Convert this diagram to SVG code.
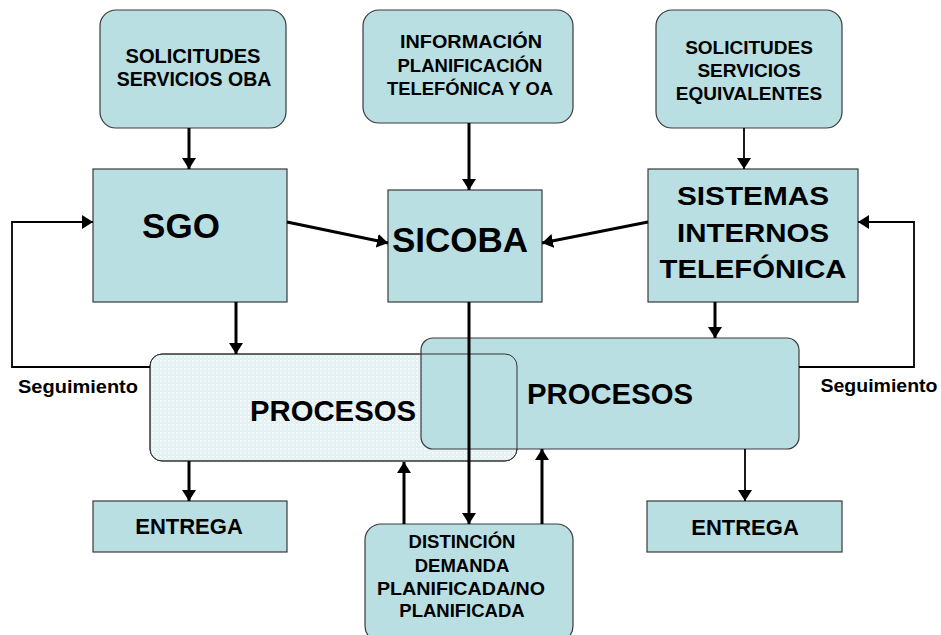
<svg xmlns="http://www.w3.org/2000/svg" width="941" height="635" viewBox="0 0 941 635">
<defs>
<style>
.box{fill:#b9dfe3;stroke:#3a3a3a;stroke-width:1.2}
.t{font-family:"Liberation Sans",Arial,sans-serif;font-weight:bold;fill:#000;text-anchor:middle}
.c{fill:none;stroke:#000;stroke-width:3}
.thin{stroke-width:1.8}
</style>
<marker id="ah" viewBox="0 0 14 14" markerWidth="14" markerHeight="14" refX="11" refY="7" orient="auto" markerUnits="userSpaceOnUse">
<path d="M0,0 L11,7 L0,14 z" fill="#000"/>
</marker>
<pattern id="dots" width="4" height="4" patternUnits="userSpaceOnUse">
<rect width="4" height="4" fill="#e2f2f4"/>
<rect x="0" y="0" width="1.5" height="1.5" fill="#ffffff"/>
<rect x="2" y="2" width="1" height="1" fill="#f4fbfb"/>
</pattern>
</defs>

<g id="n-solicitudes-oba">
<rect class="box" x="100" y="10" width="186" height="118" rx="16"/>
<text class="t" font-size="19.5" x="193" y="63" textLength="135" lengthAdjust="spacingAndGlyphs">SOLICITUDES</text>
<text class="t" font-size="19.5" x="194" y="86">SERVICIOS OBA</text>
</g>
<g id="n-informacion">
<rect class="box" x="363" y="10" width="210" height="113" rx="16"/>
<text class="t" font-size="18.5" x="471" y="48" textLength="142" lengthAdjust="spacingAndGlyphs">INFORMACIÓN</text>
<text class="t" font-size="18.5" x="470" y="72">PLANIFICACIÓN</text>
<text class="t" font-size="18.5" x="470" y="95" textLength="166" lengthAdjust="spacingAndGlyphs">TELEFÓNICA Y OA</text>
</g>
<g id="n-solicitudes-eq">
<rect class="box" x="656" y="10" width="186" height="118" rx="16"/>
<text class="t" font-size="19" x="749" y="54">SOLICITUDES</text>
<text class="t" font-size="19" x="749" y="77">SERVICIOS</text>
<text class="t" font-size="19" x="749" y="100">EQUIVALENTES</text>
</g>
<g id="n-sgo">
<rect class="box" x="93" y="169" width="194" height="133"/>
<text class="t" font-size="35" x="181" y="238">SGO</text>
</g>
<g id="n-sicoba">
<rect class="box" x="388" y="190" width="154" height="112"/>
<text class="t" font-size="35" x="460" y="252">SICOBA</text>
</g>
<g id="n-sistemas">
<rect class="box" x="648" y="169" width="210" height="133"/>
<text class="t" font-size="26" x="753" y="205" textLength="152" lengthAdjust="spacingAndGlyphs">SISTEMAS</text>
<text class="t" font-size="26" x="753" y="242" textLength="152" lengthAdjust="spacingAndGlyphs">INTERNOS</text>
<text class="t" font-size="26" x="753" y="278" textLength="187" lengthAdjust="spacingAndGlyphs">TELEFÓNICA</text>
</g>

<g id="n-procesos-left">
<rect x="150" y="354" width="367" height="107" rx="12" fill="url(#dots)" stroke="#333" stroke-width="1"/>
</g>
<g id="n-procesos-right">
<rect class="box" x="421" y="338" width="378" height="111" rx="12"/>
<text class="t" font-size="30" x="610" y="404" textLength="166" lengthAdjust="spacingAndGlyphs">PROCESOS</text>
</g>
<g id="n-procesos-left-over">
<rect x="150" y="354" width="367" height="107" rx="12" fill="none" stroke="#333" stroke-width="1"/>
<text class="t" font-size="30" x="333" y="421" textLength="166" lengthAdjust="spacingAndGlyphs">PROCESOS</text>
</g>

<g id="n-entrega-left">
<rect class="box" x="93" y="501" width="194" height="51"/>
<text class="t" font-size="22" x="189" y="534">ENTREGA</text>
</g>
<g id="n-entrega-right">
<rect class="box" x="647" y="501" width="195" height="51"/>
<text class="t" font-size="22" x="745" y="535">ENTREGA</text>
</g>
<g id="n-distincion">
<rect class="box" x="365" y="524" width="208" height="118" rx="16"/>
<text class="t" font-size="18.5" x="462" y="548">DISTINCIÓN</text>
<text class="t" font-size="18.5" x="462" y="572">DEMANDA</text>
<text class="t" font-size="18.5" x="461" y="595" textLength="168" lengthAdjust="spacingAndGlyphs">PLANIFICADA/NO</text>
<text class="t" font-size="18.5" x="462" y="617">PLANIFICADA</text>
</g>

<g id="labels">
<text class="t" font-size="19" x="78" y="393" textLength="120" lengthAdjust="spacingAndGlyphs">Seguimiento</text>
<text class="t" font-size="19" x="879" y="392" textLength="117" lengthAdjust="spacingAndGlyphs">Seguimiento</text>
</g>

<g id="connectors">
<line class="c" x1="189" y1="128" x2="189" y2="169" marker-end="url(#ah)"/>
<line class="c" x1="469" y1="123" x2="469" y2="190" marker-end="url(#ah)"/>
<line class="c thin" x1="744" y1="128" x2="744" y2="169" marker-end="url(#ah)"/>
<line class="c" x1="287" y1="222" x2="388" y2="243" marker-end="url(#ah)"/>
<line class="c" x1="648" y1="222" x2="542" y2="243" marker-end="url(#ah)"/>
<line class="c" x1="236" y1="302" x2="236" y2="354" marker-end="url(#ah)"/>
<line class="c" x1="715" y1="302" x2="715" y2="338" marker-end="url(#ah)"/>
<path class="c thin" d="M150,367 H12 V222 H93" marker-end="url(#ah)"/>
<path class="c thin" d="M799,367 H914 V222 H858" marker-end="url(#ah)"/>
<line class="c" x1="469" y1="302" x2="469" y2="524" marker-end="url(#ah)"/>
<line class="c" x1="404" y1="524" x2="404" y2="462" marker-end="url(#ah)"/>
<line class="c" x1="542" y1="524" x2="542" y2="449" marker-end="url(#ah)"/>
<line class="c" x1="189" y1="461" x2="189" y2="501" marker-end="url(#ah)"/>
<line class="c thin" x1="745" y1="449" x2="745" y2="501" marker-end="url(#ah)"/>
</g>
</svg>
